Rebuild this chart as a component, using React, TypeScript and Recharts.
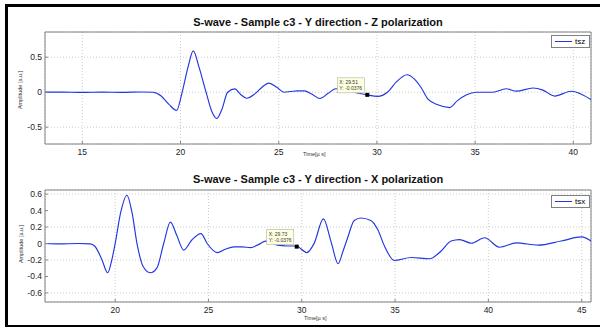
import React from "react";
import {
  LineChart,
  Line,
  XAxis,
  YAxis,
  CartesianGrid,
  ReferenceArea,
  ReferenceDot,
} from "recharts";

// tsz trace (top panel)
const tszTime = [
  13.1, 14, 15, 16, 17, 18, 18.6, 19.0, 19.4, 19.8, 20.1, 20.4, 20.65, 20.95,
  21.3, 21.6, 21.84, 22.1, 22.4, 22.77, 23.05, 23.37, 23.8, 24.15, 24.5, 24.9,
  25.27, 25.6, 25.95, 26.3, 26.7, 27.1, 27.5, 27.9, 28.5, 29.0, 29.5, 30.03,
  30.55, 31.0, 31.53, 31.9, 32.24, 32.6, 33.1, 33.7, 34.1, 34.54, 35.05, 35.9,
  36.58, 37.1, 37.95, 38.45, 39.05, 39.9, 40.92,
];
const tszValue = [
  0, 0.002, -0.003, 0.002, -0.002, 0.003, 0, -0.05, -0.17, -0.26, 0.02, 0.38,
  0.59, 0.35, 0, -0.28, -0.376, -0.25, 0, 0.047, -0.03, -0.086, -0.02, 0.07,
  0.13, 0.07, 0, 0.01, 0.02, 0.02, -0.03, -0.09, -0.02, 0.05, 0.02, -0.01,
  -0.038, -0.06, 0.003, 0.15, 0.25, 0.19, 0.07, -0.1, -0.18, -0.22, -0.12,
  -0.04, 0, 0, 0.05, 0.015, 0.06, 0.03, -0.055, 0.014, -0.11,
];

// tsx trace (bottom panel)
const tsxTime = [
  16.24, 17, 18, 18.66, 18.9, 19.28, 19.6, 19.8, 20.0, 20.3, 20.63, 20.9, 21.17,
  21.5, 21.88, 22.24, 22.6, 22.96, 23.3, 23.67, 24.1, 24.6, 24.93, 25.47, 25.9,
  26.36, 26.8, 27.26, 27.7, 28.06, 28.7, 29.2, 29.7, 30.27, 30.66, 31.16, 31.56,
  31.95, 32.2, 32.46, 32.81, 33.17, 33.7, 34.07, 34.43, 34.96, 35.86, 36.85,
  37.47, 38.0, 38.46, 39.09, 39.8, 40.6, 41.5, 42.67, 43.9, 45.0, 45.5,
];
const tsxValue = [
  0, -0.005, 0, -0.005, -0.03, -0.19, -0.355, -0.22, 0, 0.38, 0.586, 0.38, 0,
  -0.28, -0.355, -0.295, 0, 0.26, 0.1, -0.08, 0.04, 0.12, 0, -0.11, -0.07,
  -0.04, -0.04, -0.05, -0.01, 0.03, -0.02, -0.03, -0.03, -0.11, 0, 0.3, 0.03,
  -0.246, -0.1, 0.07, 0.28, 0.31, 0.28, 0.17, -0.03, -0.206, -0.17, -0.185,
  -0.09, 0.03, 0.048, 0.004, 0.07, -0.045, 0.008, -0.02, 0.03, 0.08, 0.03,
];

const topXTicks = [15, 20, 25, 30, 35, 40];
const topYTicks = [-0.5, 0, 0.5];
const botXTicks = [20, 25, 30, 35, 40, 45];
const botYTicks = [-0.6, -0.4, -0.2, 0, 0.2, 0.4, 0.6];

const topTip = { x: 29.51, y: -0.0376 };
const botTip = { x: 29.73, y: -0.0376 };

const font = "'Liberation Sans', Arial, sans-serif";
const lineBlue = "#2236e0";

const topData = tszTime.map((t, i) => ({ t, v: tszValue[i] }));
const botData = tsxTime.map((t, i) => ({ t, v: tsxValue[i] }));

function tipShape(label: { x: number; y: number }) {
  return (props: any) => {
    const { cx, cy } = props;
    return (
      <g>
        <rect x={cx - 30} y={cy - 17} width={27} height={15} fill="#ffffe1" stroke="#b0b0a0" strokeWidth={0.6} />
        <text x={cx - 28} y={cy - 11} fontSize={5} fill="#333" fontFamily={font}>
          {"X: " + label.x}
        </text>
        <text x={cx - 28} y={cy - 5} fontSize={5} fill="#333" fontFamily={font}>
          {"Y: " + label.y}
        </text>
        <rect x={cx - 2} y={cy - 2} width={4} height={4} fill="#000" />
      </g>
    );
  };
}

function Panel(props: {
  data: { t: number; v: number }[];
  xDomain: [number, number];
  yDomain: [number, number];
  xTicks: number[];
  yTicks: number[];
  tip: { x: number; y: number };
  top: number;
  marginTop: number;
  marginBottom: number;
  yFmt: (v: number) => string;
}) {
  const tick = { fontSize: 8.5, fill: "#222", fontFamily: font };
  return (
    <div style={{ position: "absolute", left: 0, top: props.top }}>
      <LineChart
        width={600}
        height={165}
        data={props.data}
        margin={{ top: props.marginTop, right: 9, left: 5, bottom: props.marginBottom }}
      >
        <CartesianGrid stroke="#cccccc" strokeDasharray="1 2" />
        <XAxis
          type="number"
          dataKey="t"
          domain={props.xDomain}
          allowDataOverflow
          ticks={props.xTicks}
          height={20}
          axisLine={false}
          tickSize={-3}
          tickMargin={8}
          tickLine={{ stroke: "#888" }}
          tick={tick}
        />
        <YAxis
          type="number"
          domain={props.yDomain}
          allowDataOverflow
          ticks={props.yTicks}
          width={40}
          axisLine={false}
          tickSize={-3}
          tickMargin={6}
          tickLine={{ stroke: "#888" }}
          tick={tick}
          tickFormatter={props.yFmt}
        />
        <ReferenceArea
          x1={props.xDomain[0]}
          x2={props.xDomain[1]}
          y1={props.yDomain[0]}
          y2={props.yDomain[1]}
          fill="none"
          stroke="#808080"
          strokeWidth={1}
        />
        <Line
          type="monotone"
          dataKey="v"
          stroke={lineBlue}
          strokeWidth={1.15}
          dot={false}
          isAnimationActive={false}
        />
        <ReferenceDot x={props.tip.x} y={props.tip.y} shape={tipShape(props.tip)} />
      </LineChart>
    </div>
  );
}

function LegendBox(props: { name: string; left: number; top: number }) {
  return (
    <div
      style={{
        position: "absolute",
        left: props.left,
        top: props.top,
        width: 37,
        height: 11,
        border: "1px solid #808080",
        background: "#fff",
        fontFamily: font,
        fontSize: 8,
        display: "flex",
        alignItems: "center",
      }}
    >
      <div style={{ width: 17, height: 0, borderTop: "1.2px solid " + lineBlue, marginLeft: 3 }} />
      <span style={{ marginLeft: 3 }}>{props.name}</span>
    </div>
  );
}

const titleStyle: React.CSSProperties = {
  position: "absolute",
  left: 45,
  width: 546,
  textAlign: "center",
  fontFamily: font,
  fontWeight: "bold",
  fontSize: 11,
  color: "#111",
};

const smallText: React.CSSProperties = {
  position: "absolute",
  fontFamily: font,
  fontSize: 5.5,
  color: "#333",
  whiteSpace: "nowrap",
};

export default function App() {
  const fmtTop = (v: number) => (v === 0 ? "0" : String(v));
  const fmtBot = (v: number) => (v === 0 ? "0" : v.toFixed(1));
  return (
    <div style={{ position: "absolute", left: 0, top: 0, width: 600, height: 327, background: "#fff" }}>
      <div
        style={{
          position: "absolute",
          left: 5,
          top: 4,
          width: 600,
          height: 318,
          borderLeft: "3px solid #000",
          borderTop: "3px solid #000",
          borderBottom: "3px solid #000",
        }}
      />
      <div style={{ ...titleStyle, top: 16 }}>S-wave - Sample c3 - Y direction - Z polarization</div>
      <div style={{ ...titleStyle, top: 173 }}>S-wave - Sample c3 - Y direction - X polarization</div>

      <Panel
        data={topData}
        xDomain={[13.1, 40.9]}
        yDomain={[-0.74, 0.86]}
        xTicks={topXTicks}
        yTicks={topYTicks}
        tip={topTip}
        top={0}
        marginTop={32}
        marginBottom={1}
        yFmt={fmtTop}
      />
      <Panel
        data={botData}
        xDomain={[16.24, 45.5]}
        yDomain={[-0.71, 0.65]}
        xTicks={botXTicks}
        yTicks={botYTicks}
        tip={botTip}
        top={160}
        marginTop={30}
        marginBottom={3}
        yFmt={fmtBot}
      />

      <LegendBox name="tsz" left={551} top={35} />
      <LegendBox name="tsx" left={551} top={195} />

      <div style={{ ...smallText, left: 303, top: 151 }}>Time[µ s]</div>
      <div style={{ ...smallText, left: 304, top: 315 }}>Time[µ s]</div>
      <div style={{ ...smallText, left: 20, top: 90, transform: "translate(-50%, -50%) rotate(-90deg)" }}>
        Amplitude [a.u.]
      </div>
      <div style={{ ...smallText, left: 21, top: 244, transform: "translate(-50%, -50%) rotate(-90deg)" }}>
        Amplitude [a.u.]
      </div>
    </div>
  );
}
